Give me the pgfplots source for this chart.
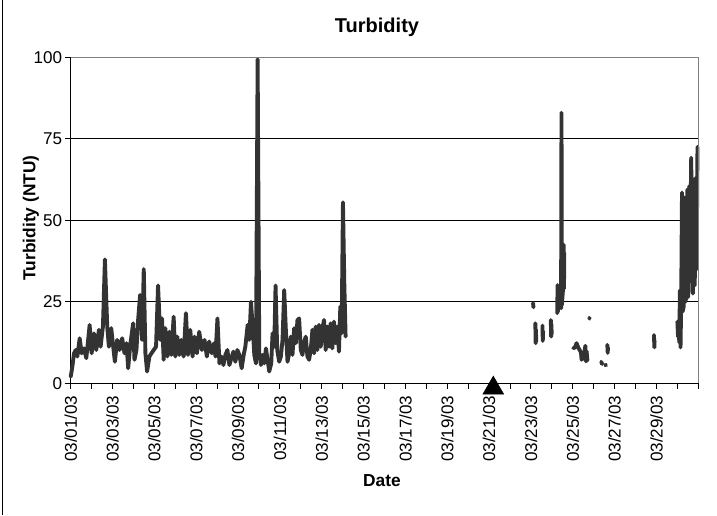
\documentclass[border=0pt]{standalone}
\usepackage{fontspec}
\setmainfont{Liberation Sans}
\usepackage{pgfplots}
\pgfplotsset{compat=1.18}
\definecolor{serie}{HTML}{333333}
\definecolor{frame}{HTML}{808080}

\begin{document}
\begin{tikzpicture}[x=1pt,y=1pt]
\useasboundingbox (0,0) rectangle (537.75,386.25);
\draw[line width=0.8pt, black] (2.2,0) -- (2.2,386.25);
\begin{axis}[
  at={(53.03pt,98.8pt)}, anchor=south west,
  scale only axis, width=470.7pt, height=244.5pt,
  xmin=0, xmax=30, ymin=0, ymax=100,
  clip=false,
  font=\fontsize{12.8}{15}\selectfont,
  axis x line*=bottom, axis y line*=left,
  axis line style={-, black, line width=0.9pt},
  xtick={0,2,...,28},
  xticklabels={03/01/03,03/03/03,03/05/03,03/07/03,03/09/03,03/11/03,03/13/03,03/15/03,03/17/03,03/19/03,03/21/03,03/23/03,03/25/03,03/27/03,03/29/03},
  minor xtick={1,3,...,29,30},
  ytick={0,25,50,75,100},
  yticklabels={0,25,50,75,100},
  ymajorgrids, grid style={black, line width=0.75pt},
  tick align=outside, major tick length=4pt, minor tick length=4pt,
  every tick/.style={black, line width=0.75pt},
  /pgf/number format/assume math mode=true,
  tick label style={font=\fontsize{12.8}{15}\selectfont},
  xticklabel style={yshift=-5pt, rotate=90, anchor=east, inner sep=0pt},
  yticklabel style={anchor=east, inner sep=0pt, xshift=-2.3pt},
  unbounded coords=jump,
]
\addplot[serie, line width=2.9pt, line join=round, line cap=round] coordinates {
(0,2.0) (0.079,5.1) (0.159,9.2) (0.238,10.2) (0.317,8.2) (0.429,13.8) (0.524,9.2) (0.635,10.7) (0.746,7.7) (0.905,17.9)
(1.0,9.2) (1.111,15.3) (1.222,10.2) (1.349,16.4) (1.429,11.2) (1.54,17.4) (1.635,38.0) (1.746,17.4) (1.825,11.2) (1.937,16.9)
(2.032,11.2) (2.111,6.6) (2.222,13.3) (2.333,10.2) (2.46,13.8) (2.571,9.2) (2.667,12.3) (2.746,4.6) (2.857,12.3) (2.984,18.4)
(3.048,7.2) (3.143,10.2) (3.222,19.4) (3.317,27.1) (3.413,13.3) (3.492,35.0) (3.571,9.2) (3.651,3.6) (3.762,8.2) (3.857,9.2)
(3.968,10.2) (4.079,11.2) (4.175,30.0) (4.286,13.3) (4.365,19.9) (4.444,7.2) (4.524,16.9) (4.619,8.2) (4.714,15.8) (4.810,8.7)
(4.921,20.4) (5.0,8.2) (5.095,14.3) (5.19,8.7) (5.286,13.3) (5.397,8.2) (5.508,21.5) (5.603,8.7) (5.714,16.4) (5.825,8.2)
(5.921,14.3) (6.032,9.2) (6.143,15.8) (6.27,10.2) (6.397,13.3) (6.508,8.2) (6.619,12.8) (6.746,9.2) (6.857,12.3) (6.92,8.2)
(7.014,19.9) (7.109,6.1) (7.205,8.2) (7.3,5.6) (7.395,8.7) (7.49,10.2) (7.585,5.6) (7.681,7.7) (7.776,9.7) (7.871,6.6)
(7.966,10.2) (8.062,8.7) (8.173,4.6) (8.268,8.7) (8.347,11.2) (8.458,17.9) (8.538,13.3) (8.617,25.0) (8.697,17.4) (8.776,8.7)
(8.855,6.1) (8.935,99.4) (9.014,9.2) (9.093,5.6) (9.173,8.7) (9.252,6.1) (9.332,10.7) (9.411,7.2) (9.49,3.6) (9.585,6.1)
(9.649,15.3) (9.728,11.2) (9.792,30.0) (9.871,10.2) (9.966,6.6) (10.046,8.2) (10.125,13.3) (10.205,28.6) (10.284,16.4) (10.363,6.6)
(10.443,9.2) (10.522,14.3) (10.601,8.7) (10.681,16.9) (10.76,12.3) (10.839,19.4) (10.919,19.9) (10.998,10.2) (11.078,8.7) (11.157,12.8)
(11.236,14.3) (11.316,8.2) (11.395,7.2) (11.474,10.2) (11.554,16.4) (11.633,9.2) (11.712,17.4) (11.792,10.2) (11.871,17.9) (11.95,11.2)
(12.03,16.9) (12.109,19.4) (12.189,10.2) (12.268,17.4) (12.347,11.2) (12.427,18.4) (12.506,10.7) (12.585,18.9) (12.665,12.3) (12.744,17.4)
(12.823,9.7) (12.887,23.5) (12.95,15.3) (13.014,55.5) (13.078,30.7) (13.141,14.3)
(13.2,nan)
(22.10,24.6) (22.12,23.3) (22.15,nan)
(22.21,18.4) (22.225,12.3) (22.24,16.5) (22.25,12.8) (22.3,nan)
(22.55,17.7) (22.565,13.0) (22.58,16.0) (22.6,nan)
(22.95,19.4) (22.965,14.3) (22.98,18.0) (22.99,15.0) (23.0,nan)
(23.26,21.5) (23.27,30.1) (23.29,22.0) (23.31,27.0) (23.35,24.0) (23.40,26.0) (23.44,23.0) (23.46,83.0) (23.48,24.0) (23.50,26.0) (23.53,28.6) (23.56,42.5) (23.58,29.0) (23.59,40.0) (23.7,nan)
(24.02,10.8) (24.10,10.9) (24.18,12.3) (24.24,11.3) (24.30,10.5) (24.39,9.5) (24.42,7.2) (24.48,8.5) (24.52,7.5) (24.60,11.5) (24.63,6.7) (24.66,9.8) (24.70,7.0) (24.75,nan)
(24.79,20.1) (24.80,19.8) (24.9,nan)
(25.36,6.6) (25.40,5.9) (25.45,nan)
(25.55,5.7) (25.59,5.5) (25.62,nan)
(25.65,11.8) (25.67,9.3) (25.68,11.0) (25.8,nan)
(27.88,14.8) (27.90,11.0) (27.91,13.0) (28.0,nan)
(29.00,18.9) (29.03,14.3) (29.06,17.5) (29.09,12.5) (29.12,28.5) (29.15,11.0) (29.18,24.0) (29.22,58.5) (29.25,22.0) (29.30,23.5)
(29.34,57.0) (29.38,25.0) (29.44,27.0) (29.48,59.5) (29.52,26.5) (29.57,60.5) (29.61,40.0) (29.66,69.2) (29.70,41.5) (29.74,27.5)
(29.79,45.0) (29.83,30.0) (29.87,63.0) (29.92,35.0) (29.96,72.5)
};
\addplot[only marks, mark=triangle*, mark size=9pt, black] coordinates {(20.2,-1.5)};
\draw[frame, line width=1pt] (rel axis cs:0,1) -- (rel axis cs:1,1) -- (rel axis cs:1,0);
\end{axis}
\node[font=\fontsize{15}{17}\selectfont\bfseries] at (282.75,366) {Turbidity};
\node[font=\fontsize{13}{15}\selectfont\bfseries] at (286.5,25.5) {Date};
\node[font=\fontsize{13}{15}\selectfont\bfseries, rotate=90] at (23.25,222.75) {Turbidity (NTU)};
\end{tikzpicture}
\end{document}
